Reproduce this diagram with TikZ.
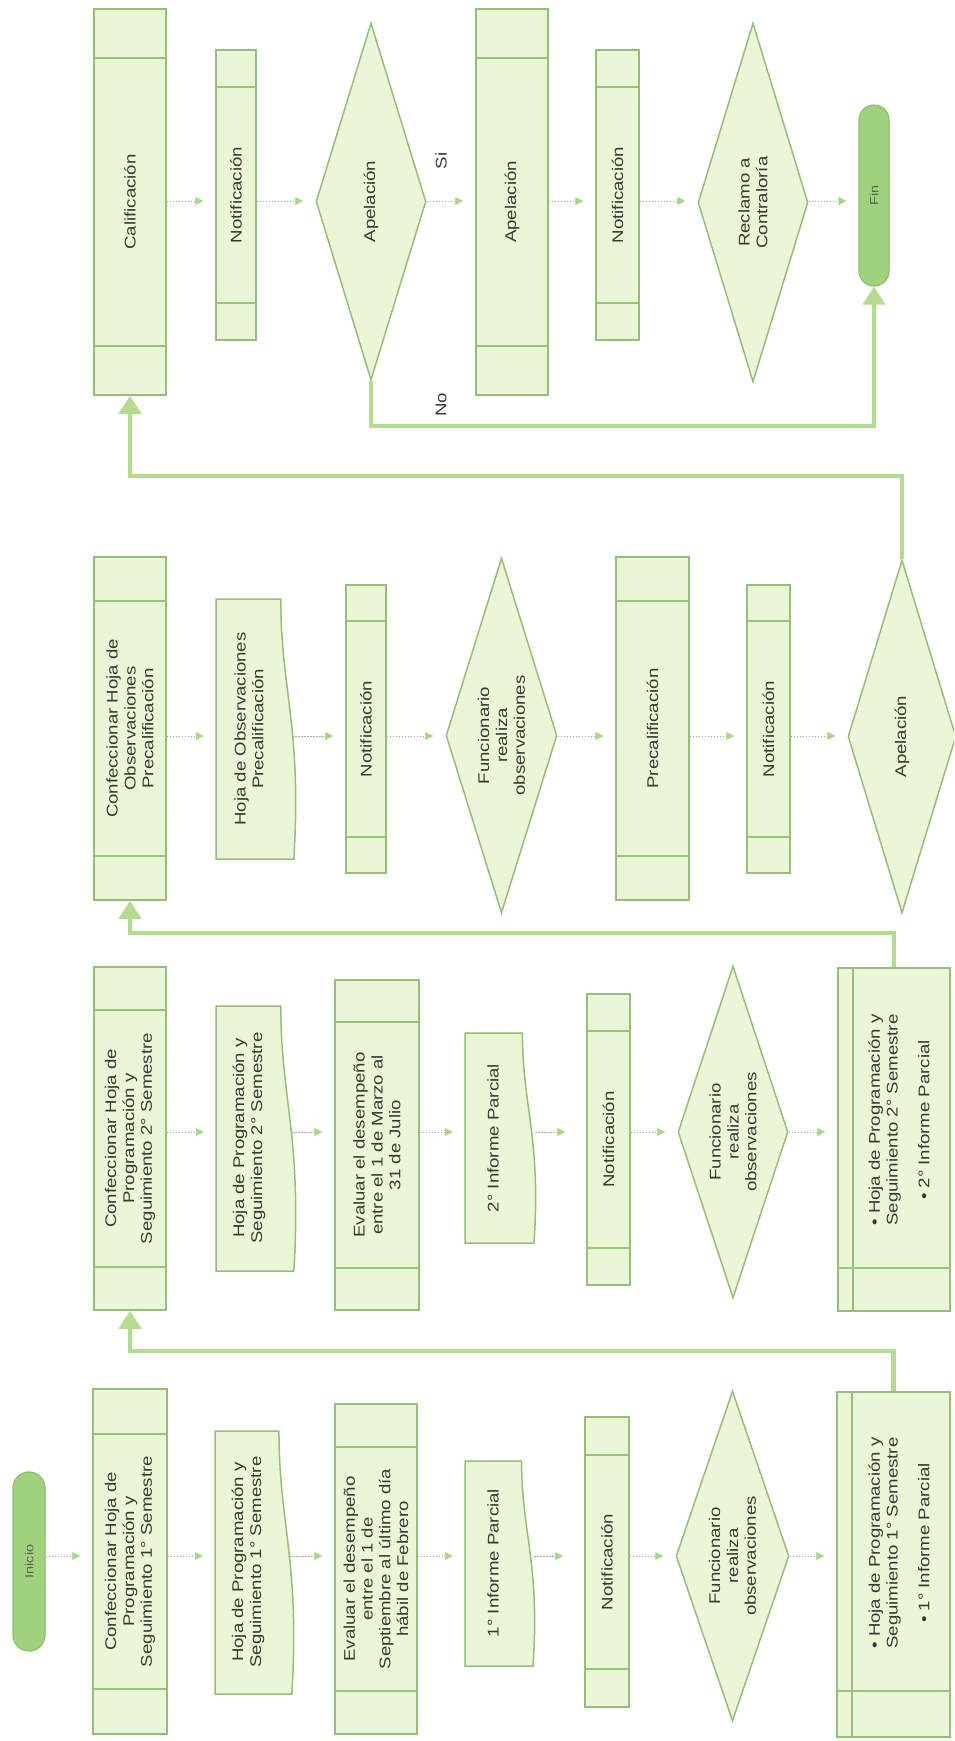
\documentclass[tikz,border=0pt]{standalone}
\usepackage{fontspec}
\setmainfont{Liberation Sans}[FakeStretch=1.2]
\usetikzlibrary{shapes.geometric,arrows.meta,calc}
\definecolor{boxfill}{RGB}{234,246,214}
\definecolor{boxline}{RGB}{150,190,122}
\definecolor{innerc}{RGB}{148,199,118}
\definecolor{termfill}{RGB}{160,210,124}
\definecolor{termline}{RGB}{140,190,110}
\definecolor{bigc}{RGB}{180,220,142}
\definecolor{flowc}{RGB}{165,170,160}
\definecolor{tipc}{RGB}{170,216,130}
\definecolor{textc}{RGB}{55,58,52}
\newcommand\fs{\fontsize{15.5}{17.8}\selectfont}
\newcommand\docshape[4]{%
  \pgfmathsetmacro\dw{#2-#1}\pgfmathsetmacro\dh{#4-#3}%
  \draw[docst] (#1,#3) -- ({#1+0.82*\dw},#3)
    .. controls ({#1+0.82*\dw},{#3+0.35*\dh}) and ({#1+1.09*\dw},{#3+0.5*\dh}) ..
    ({#1+0.985*\dw},#4) -- (#1,#4) -- cycle;}
\begin{document}
\begin{tikzpicture}[x=1pt,y=-1pt,
  geom/.style n args={4}{at={({(#1+#2)/2},{(#3+#4)/2})},
     minimum width={(#2-#1)*1pt}, minimum height={(#4-#3)*1pt}},
  box/.style={rectangle, draw=boxline, fill=boxfill, line width=1.5pt, inner sep=0pt},
  docst/.style={draw=boxline, fill=boxfill, line width=1.5pt},
  docnode/.style={rectangle, draw=none, inner sep=0pt},
  innerline/.style={draw=innerc, line width=2.6pt},
  pp/.style={box, path picture={
     \draw[innerline] ([yshift=-#1]path picture bounding box.north west) -- ([yshift=-#1]path picture bounding box.north east);
     \draw[innerline] ([yshift=#1]path picture bounding box.south west) -- ([yshift=#1]path picture bounding box.south east);}},
  lst/.style={box, path picture={
     \draw[boxline, line width=1.5pt] ([xshift=15pt]path picture bounding box.north west) -- ([xshift=15pt]path picture bounding box.south west);
     \draw[innerline] ([yshift=#1]path picture bounding box.south west) -- ([yshift=#1]path picture bounding box.south east);}},
  dia/.style={diamond, draw=boxline, fill=boxfill, line width=1.5pt, inner sep=0pt},
  term/.style={rectangle, rounded corners=15pt, draw=termline, fill=termfill, line width=1.2pt, inner sep=0pt},
  txt/.style={rotate=90, align=center, font=\fs, text=textc, inner sep=0pt},
  ttxt/.style={rotate=90, align=center, font=\fontsize{12}{14}\selectfont, text=textc!80, inner sep=0pt},
  flow/.style={draw=flowc, line width=0.9pt, dash pattern=on 1.6pt off 1.4pt, shorten >=12pt,
     -{Triangle[length=8pt,width=8pt,color=tipc]}},
  big/.style={draw=bigc, line width=4.5pt, -{Triangle[length=18pt,width=22pt,color=bigc]}}
]
\fill[white] (0,0) rectangle (954,1741);
\path[use as bounding box] (0,0) rectangle (954,1741);
\clip (0,0) rectangle (954,1741);

% row coordinates
\coordinate (ra) at (0,1556);
\coordinate (rb) at (0,1132);
\coordinate (rc) at (0,736);
\coordinate (rd) at (0,201);

% ---------------- Band A ----------------
\node[term, geom={13}{45}{1472}{1651}, rounded corners=16pt] (ini) {};
\node[ttxt] (init) at (ini) {Inicio};
\node[pp=45pt, geom={93}{167}{1389}{1734}] (a1) {};
\node[txt] (a1t) at (a1) {Confeccionar Hoja de\\Programación y\\Seguimiento 1° Semestre};
\docshape{215}{293}{1431}{1694}
\node[docnode, geom={215}{293}{1431}{1694}] (a2) {};
\node[txt] (a2t) at (248,1562) {Hoja de Programación y\\Seguimiento 1° Semestre};
\node[pp=43pt, geom={335}{417}{1404}{1734}] (a3) {};
\node[txt] (a3t) at (a3) {Evaluar el desempeño\\entre el 1 de\\Septiembre al último día\\hábil de Febrero};
\docshape{465}{534}{1461}{1666}
\node[docnode, geom={465}{534}{1461}{1666}] (a4) {};
\node[txt] (a4t) at (493,1563) {1° Informe Parcial};
\node[pp=38pt, geom={585}{629}{1417}{1707}] (a5) {};
\node[txt] (a5t) at (a5) {Notificación};
\node[dia, geom={676}{789}{1391}{1721}] (a6) {};
\node[txt] (a6t) at (a6) {Funcionario\\realiza\\observaciones};
\node[lst=46pt, geom={837}{950}{1392}{1737}] (a7) {};
\node[txt] (a7t) at (899,1543) {• Hoja de Programación y\\Seguimiento 1° Semestre\\[14pt]• 1° Informe Parcial};

\draw[flow] (ini.east |- ra) -- (a1.west |- ra);
\draw[flow] (a1.east |- ra) -- (a2.west |- ra);
\draw[flow] ([xshift=-3pt]a2.east |- ra) -- (a3.west |- ra);
\draw[flow] (a3.east |- ra) -- (a4.west |- ra);
\draw[flow, shorten >=21pt] (a4.east |- ra) -- (a5.west |- ra);
\draw[flow] (a5.east |- ra) -- (a6.west |- ra);
\draw[flow] (a6.east |- ra) -- (a7.west |- ra);

% ---------------- Band B ----------------
\node[pp=43pt, geom={94}{166}{967}{1310}] (b1) {};
\node[txt] (b1t) at (b1) {Confeccionar Hoja de\\Programación y\\Seguimiento 2° Semestre};
\docshape{216}{295}{1006}{1271}
\node[docnode, geom={216}{295}{1006}{1271}] (b2) {};
\node[txt] (b2t) at (249,1138) {Hoja de Programación y\\Seguimiento 2° Semestre};
\node[pp=42pt, geom={335}{419}{980}{1310}] (b3) {};
\node[txt] (b3t) at (b3) {Evaluar el desempeño\\entre el 1 de Marzo al\\31 de Julio};
\docshape{465}{535}{1033}{1243}
\node[docnode, geom={465}{535}{1033}{1243}] (b4) {};
\node[txt] (b4t) at (493,1138) {2° Informe Parcial};
\node[pp=37pt, geom={587}{630}{994}{1285}] (b5) {};
\node[txt] (b5t) at (b5) {Notificación};
\node[dia, geom={678}{788}{966}{1298}] (b6) {};
\node[txt] (b6t) at (b6) {Funcionario\\realiza\\observaciones};
\node[lst=43pt, geom={838}{950}{968}{1311}] (b7) {};
\node[txt] (b7t) at (899,1120) {• Hoja de Programación y\\Seguimiento 2° Semestre\\[14pt]• 2° Informe Parcial};

\draw[flow] (b1.east |- rb) -- (b2.west |- rb);
\draw[flow] ([xshift=-3pt]b2.east |- rb) -- (b3.west |- rb);
\draw[flow] (b3.east |- rb) -- (b4.west |- rb);
\draw[flow, shorten >=21pt] (b4.east |- rb) -- (b5.west |- rb);
\draw[flow] (b5.east |- rb) -- (b6.west |- rb);
\draw[flow] (b6.east |- rb) -- (b7.west |- rb);

% ---------------- Band C ----------------
\node[pp=44pt, geom={94}{166}{557}{900}] (c1) {};
\node[txt] (c1t) at (c1) {Confeccionar Hoja de\\Observaciones\\Precalificación};
\docshape{216}{295}{599}{859}
\node[docnode, geom={216}{295}{599}{859}] (c2) {};
\node[txt] (c2t) at (249,729) {Hoja de Observaciones\\Precalificación};
\node[pp=36pt, geom={346}{386}{585}{873}] (c3) {};
\node[txt] (c3t) at (c3) {Notificación};
\node[dia, geom={446}{557}{558}{913}] (c4) {};
\node[txt] (c4t) at (c4) {Funcionario\\realiza\\observaciones};
\node[pp=44pt, geom={616}{689}{557}{900}] (c5) {};
\node[txt] (c5t) at (c5) {Precalificación};
\node[pp=36pt, geom={747}{790}{585}{873}] (c6) {};
\node[txt] (c6t) at (c6) {Notificación};
\node[dia, geom={848}{956}{560}{913}] (c7) {};
\node[txt] (c7t) at (c7) {Apelación};

\draw[flow] (c1.east |- rc) -- (c2.west |- rc);
\draw[flow] ([xshift=-3pt]c2.east |- rc) -- (c3.west |- rc);
\draw[flow] (c3.east |- rc) -- (c4.west |- rc);
\draw[flow] (c4.east |- rc) -- (c5.west |- rc);
\draw[flow] (c5.east |- rc) -- (c6.west |- rc);
\draw[flow] (c6.east |- rc) -- (c7.west |- rc);

% ---------------- Band D ----------------
\node[pp=49pt, geom={94}{166}{9}{395}] (d1) {};
\node[txt] (d1t) at (d1) {Calificación};
\node[pp=37pt, geom={216}{256}{50}{340}] (d2) {};
\node[txt] (d2t) at (d2) {Notificación};
\node[dia, geom={316}{426}{23}{380}] (d3) {};
\node[txt] (d3t) at (d3) {Apelación};
\node[pp=49pt, geom={476}{548}{9}{395}] (d4) {};
\node[txt] (d4t) at (d4) {Apelación};
\node[pp=37pt, geom={596}{639}{50}{340}] (d5) {};
\node[txt] (d5t) at (d5) {Notificación};
\node[dia, geom={698}{808}{23}{382}] (d6) {};
\node[txt] (d6t) at (d6) {Reclamo a\\Contraloría};
\node[term, geom={859}{889}{105}{286}] (d7) {};
\node[ttxt] (d7t) at (d7) {Fin};

\draw[flow] (d1.east |- rd) -- (d2.west |- rd);
\draw[flow] (d2.east |- rd) -- (d3.west |- rd);
\draw[flow] (d3.east |- rd) -- (d4.west |- rd);
\draw[flow] (d4.east |- rd) -- (d5.west |- rd);
\draw[flow] (d5.east |- rd) -- (d6.west |- rd);
\draw[flow] (d6.east |- rd) -- (d7.west |- rd);

\node[txt] (si) at (441,161) {Si};
\node[txt] (no) at (441,405) {No};

% ---------------- big connectors ----------------
\coordinate (ab) at (130,1351);
\coordinate (bc) at (130,933);
\coordinate (cd) at (130,476);
\coordinate (dn) at (874,426);
\draw[big] (a7.north) |- (ab) -- (b1.south);
\draw[big] (b7.north) |- (bc) -- (c1.south);
\draw[big] (c7.north) |- (cd) -- (d1.south);
\draw[big] (d3.south) |- (dn) -- (d7.south);
\end{tikzpicture}
\end{document}
